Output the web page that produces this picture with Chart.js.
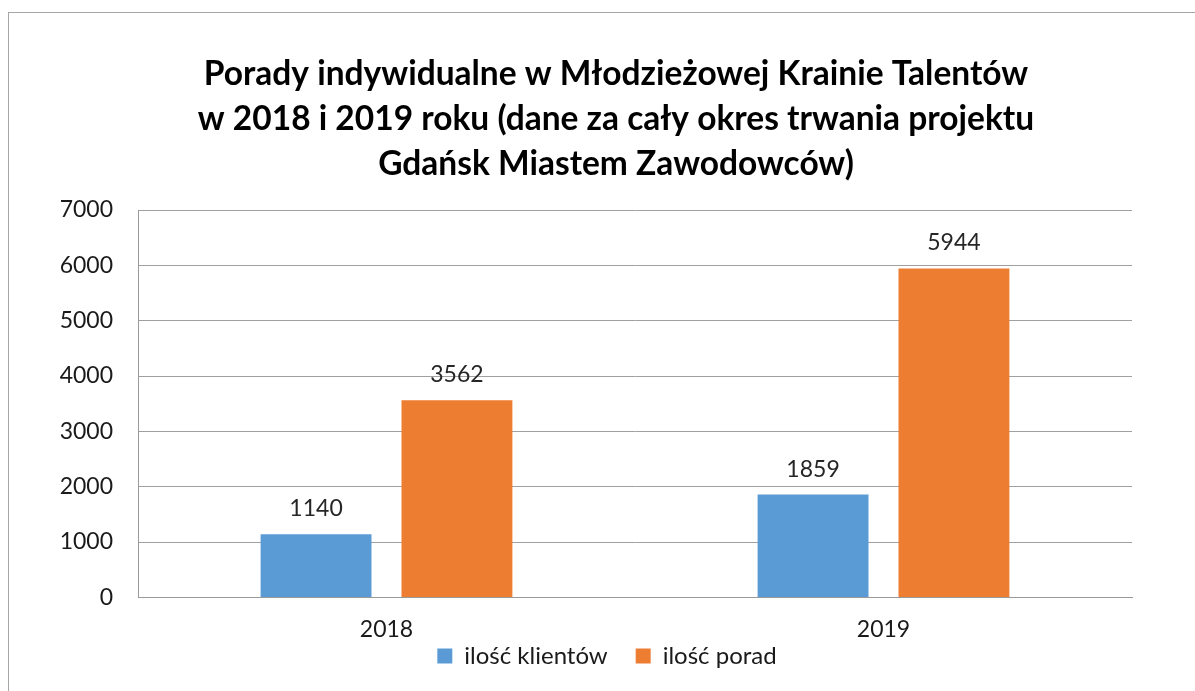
<!DOCTYPE html>
<html>
<head>
<meta charset="utf-8">
<script src="https://cdn.jsdelivr.net/npm/chart.js@4"></script>
<style>
  body { margin: 0; background: #fff; }
  #wrap { position: relative; width: 1195px; height: 691px; overflow: hidden; }
  #frame { position: absolute; left: 8px; top: 12px; width: 1300px; height: 800px; border: 1px solid #a6a6a6; }
  canvas { position: absolute; left: 0; top: 0; }
</style>
</head>
<body>
<div id="wrap">
  <div id="frame"></div>
  <canvas id="chart" width="1195" height="691"></canvas>
</div>
<script>
const categories = ["2018", "2019"];
const clients = [1140, 1859];
const advice = [3562, 5944];
const seriesNames = ["ilość klientów", "ilość porad"];
const titleLines = [
  "Porady indywidualne w Młodzieżowej Krainie Talentów",
  "w 2018 i 2019 roku (dane za cały okres trwania projektu",
  "Gdańsk Miastem Zawodowców)"
];

const FONT = "Lato, 'Open Sans', sans-serif";

// title drawn by hand so it can sit off-centre like the original
const chartTitle = {
  id: "chartTitle",
  afterDraw(chart) {
    const ctx = chart.ctx;
    ctx.save();
    ctx.font = "bold 33.5px " + FONT;
    ctx.fillStyle = "#000";
    ctx.textAlign = "center";
    ctx.textBaseline = "alphabetic";
    titleLines.forEach((line, i) => ctx.fillText(line, 616, 85 + i * 45));
    ctx.restore();
  }
};

// value labels above bars
const barLabels = {
  id: "barLabels",
  afterDatasetsDraw(chart) {
    const ctx = chart.ctx;
    ctx.save();
    ctx.font = "23px " + FONT;
    ctx.fillStyle = "#262626";
    ctx.textAlign = "center";
    ctx.textBaseline = "alphabetic";
    chart.data.datasets.forEach((ds, i) => {
      chart.getDatasetMeta(i).data.forEach((bar, j) => {
        ctx.fillText(ds.data[j], bar.x, bar.y - 18);
      });
    });
    ctx.restore();
  }
};

// legend keeps wide item gaps but sits close under the axis labels
const legendShift = {
  id: "legendShift",
  afterLayout(chart) {
    const lg = chart.legend;
    const pad = lg.options.labels.padding;
    lg.top = 656 - pad - 12;
    lg.bottom = chart.height;
    lg.height = lg.bottom - lg.top;
    lg.left += 41;
    lg.right += 41;
  }
};

new Chart(document.getElementById("chart"), {
  type: "bar",
  data: {
    labels: categories,
    datasets: [
      { label: seriesNames[0], data: clients, backgroundColor: "#5B9BD5" },
      { label: seriesNames[1], data: advice, backgroundColor: "#ED7D31" }
    ]
  },
  options: {
    responsive: false,
    animation: false,
    layout: { padding: { left: 0, right: 63, top: 210, bottom: 0 } },
    datasets: { bar: { categoryPercentage: 0.567, barPercentage: 0.787 } },
    plugins: {
      title: { display: false },
      legend: {
        position: "bottom",
        maxHeight: 38,
        labels: {
          color: "#1a1a1a",
          font: { family: FONT, size: 24 },
          boxWidth: 15,
          boxHeight: 15,
          padding: 28
        }
      },
      tooltip: { enabled: false }
    },
    scales: {
      x: {
        grid: { display: false },
        border: { color: "#999", width: 1 },
        ticks: { color: "#1a1a1a", font: { family: FONT, size: 23 }, padding: 10 }
      },
      y: {
        min: 0,
        max: 7000,
        afterFit(scale) { scale.width = 138; },
        grid: { color: "#a0a0a0", drawTicks: false },
        border: { color: "#999", width: 1 },
        ticks: {
          stepSize: 1000,
          color: "#1a1a1a",
          font: { family: FONT, size: 23 },
          padding: 25,
          callback: v => String(v)
        }
      }
    }
  },
  plugins: [barLabels, chartTitle, legendShift]
});
</script>
</body>
</html>
